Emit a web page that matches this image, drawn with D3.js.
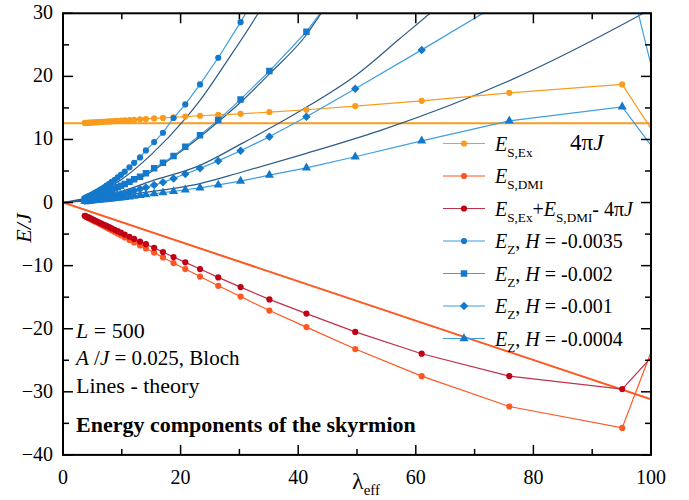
<!DOCTYPE html>
<html><head><meta charset="utf-8">
<script src="https://cdn.jsdelivr.net/npm/d3@7"></script>
<style>body{margin:0;background:#fff}</style>
</head><body><svg id="c" width="689" height="500"></svg>
<script>
// ---- data ----
const lam = [3.7,3.9,4.1,4.3,4.5,4.75,5.0,5.3,5.6,5.9,6.25,6.6,7.0,7.4,7.85,8.3,8.8,9.3,9.85,10.5,11.3,12.1,13.1,14.1,15.5,17.0,18.8,20.8,23.3,26.4,30.2,35.1,41.4,49.7,61.0,75.9,95.1,103];
const eEx = [12.62,12.63,12.64,12.65,12.66,12.67,12.69,12.70,12.72,12.74,12.76,12.78,12.81,12.83,12.86,12.89,12.92,12.95,12.99,13.03,13.08,13.13,13.19,13.25,13.33,13.42,13.52,13.63,13.76,13.91,14.07,14.34,14.71,15.29,16.13,17.40,18.73,7.43];
const eDmi = [-2.14,-2.24,-2.34,-2.44,-2.53,-2.65,-2.78,-2.92,-3.07,-3.22,-3.39,-3.57,-3.77,-3.97,-4.19,-4.42,-4.67,-4.92,-5.20,-5.53,-5.93,-6.32,-6.80,-7.28,-7.94,-8.70,-9.59,-10.54,-11.73,-13.20,-14.90,-17.12,-19.74,-23.22,-27.52,-32.33,-35.72,-16.40];
const eSum = [-2.09,-2.18,-2.27,-2.36,-2.44,-2.55,-2.66,-2.79,-2.92,-3.05,-3.20,-3.36,-3.53,-3.71,-3.90,-4.10,-4.32,-4.54,-4.78,-5.07,-5.42,-5.76,-6.18,-6.60,-7.18,-7.85,-8.64,-9.48,-10.54,-11.86,-13.40,-15.35,-17.60,-20.50,-23.96,-27.50,-29.56,-21.54];
const ez35 = [0.72,0.80,0.89,0.98,1.07,1.19,1.31,1.46,1.62,1.78,1.98,2.18,2.42,2.67,2.96,3.27,3.62,3.98,4.40,4.90,5.58,6.30,7.16,8.27,9.59,11.07,13.40,15.56,18.73,22.95,28.60,36.50];
const ez20 = [0.50,0.55,0.60,0.65,0.71,0.78,0.86,0.95,1.05,1.15,1.27,1.39,1.54,1.69,1.86,2.04,2.24,2.44,2.67,2.95,3.30,3.68,4.09,4.63,5.42,6.30,7.37,8.84,10.68,13.07,16.35,20.84,27.07,37.50];
const ez10 = [0.29,0.31,0.33,0.36,0.38,0.41,0.45,0.49,0.53,0.58,0.63,0.69,0.76,0.83,0.91,0.99,1.09,1.19,1.31,1.46,1.66,1.87,2.14,2.40,2.77,3.20,3.83,4.52,5.42,6.60,8.21,10.43,13.60,18.03,24.20,32.50,40.40,10.40];
const ez04 = [0.21,0.23,0.24,0.26,0.27,0.29,0.31,0.34,0.36,0.39,0.42,0.45,0.48,0.52,0.56,0.60,0.65,0.70,0.76,0.83,0.92,1.03,1.14,1.24,1.40,1.56,1.77,2.03,2.33,2.80,3.40,4.36,5.50,7.26,9.79,12.96,15.18,5.38];
// theory curves
const th35Lam = [0,5,10,15,20.8,23.3,27.8,33.2,36];
const th35E   = [0,1.1,3.7,7.6,13.3,16.2,22.3,30,34.5];
const th20Lam = [0,5,10,15,20.8,26.4,30.2,35.1,41.4,43.9,47];
const th20E   = [0,0.7,2.4,4.9,8.6,12.8,15.9,20.4,26.6,30,34];
const th10Lam = [0,5,10,15,23.3,30.3,40.3,50,57.3,62.4,66];
const th10E   = [0,0.6,1.8,3.4,5.9,9.3,14.5,20.3,26.0,30,33];
const th04Lam = [0,5,11.5,23.3,30.3,41.4,53.9,76.6,98.7,102];
const th04E   = [0,0.4,1.3,3.0,4.8,7.8,11.4,19.6,30,31.7];
const dmiThLam = [0,100];
const dmiThE   = [0,-31.2];
const fourPiJ = 12.566;
const xTicks = [0,20,40,60,80,100];
const yTicks = [30,20,10,0,-10,-20,-30,-40];

// ---- layout ----
const FONT = '"Liberation Serif", "Times New Roman", Tinos, "Noto Serif", "DejaVu Serif", FreeSerif, serif';
const svg = d3.select('#c');
const L = 63, R = 651, T = 13.3, B = 454.9;
const x = d3.scaleLinear().domain([0,100]).range([L,R]);
const y = d3.scaleLinear().domain([-40,30]).range([B,T]);
const zip = (a,b) => b.map((v,i)=>[a[i],v]);

svg.append('defs').append('clipPath').attr('id','clip')
  .append('rect').attr('x',L).attr('y',T).attr('width',R-L).attr('height',B-T);
const plot = svg.append('g').attr('clip-path','url(#clip)');

const lineLin = d3.line().x(d=>x(d[0])).y(d=>y(d[1]));
const lineSm = d3.line().x(d=>x(d[0])).y(d=>y(d[1])).curve(d3.curveMonotoneX);

const cOr = '#f99b1c', cDmi = '#ff5722', cSumL = '#c0304a', cSumM = '#c00014';
const cBlL = '#3d9ee0', cBlM = '#1479cc', cTh = '#2d5b88';

plot.append('line').attr('x1',L).attr('x2',R).attr('y1',y(fourPiJ)).attr('y2',y(fourPiJ))
  .attr('stroke',cOr).attr('stroke-width',2);
plot.append('path').datum(zip(dmiThLam,dmiThE)).attr('d',lineLin).attr('fill','none')
  .attr('stroke',cDmi).attr('stroke-width',2);
[[th35Lam,th35E],[th20Lam,th20E],[th10Lam,th10E],[th04Lam,th04E]].forEach(([a,b])=>{
  plot.append('path').datum(zip(a,b)).attr('d',lineSm).attr('fill','none')
    .attr('stroke',cTh).attr('stroke-width',1.2);
});

const series = [
  {v:eEx, line:cOr, mark:cOr, sym:d3.symbolCircle, size:30, rot:0},
  {v:eDmi, line:cDmi, mark:cDmi, sym:d3.symbolCircle, size:30, rot:0},
  {v:eSum, line:cSumL, mark:cSumM, sym:d3.symbolCircle, size:30, rot:0},
  {v:ez35, line:cBlL, mark:cBlM, sym:d3.symbolCircle, size:30, rot:0},
  {v:ez20, line:cBlL, mark:cBlM, sym:d3.symbolSquare, size:42, rot:0},
  {v:ez10, line:cBlL, mark:cBlM, sym:d3.symbolSquare, size:36, rot:45},
  {v:ez04, line:cBlL, mark:cBlM, sym:d3.symbolTriangle, size:36, rot:0},
];
series.forEach(s=>{
  plot.append('path').datum(zip(lam, s.v)).attr('d',lineLin).attr('fill','none')
    .attr('stroke',s.line).attr('stroke-width',1.2);
});
series.forEach(s=>{
  plot.append('g').selectAll('path').data(zip(lam, s.v)).join('path')
    .attr('transform',d=>`translate(${x(d[0])},${y(d[1])}) rotate(${s.rot})`)
    .attr('d',d3.symbol().type(s.sym).size(s.size)).attr('fill',s.mark);
});

// ---- frame & ticks ----
const ax = svg.append('g').attr('stroke','#000');
ax.append('rect').attr('x',L).attr('y',T).attr('width',R-L).attr('height',B-T)
  .attr('fill','none').attr('stroke-width',2);
d3.range(0,101,10).forEach(v=>{
  const len = v%20===0 ? 10 : 6;
  ax.append('line').attr('x1',x(v)).attr('x2',x(v)).attr('y1',B).attr('y2',B-len).attr('stroke-width',1.5);
  ax.append('line').attr('x1',x(v)).attr('x2',x(v)).attr('y1',T).attr('y2',T+len).attr('stroke-width',1.5);
});
d3.range(-40,31,5).forEach(v=>{
  const len = v%10===0 ? 10 : 6;
  ax.append('line').attr('x1',L).attr('x2',L+len).attr('y1',y(v)).attr('y2',y(v)).attr('stroke-width',1.5);
  ax.append('line').attr('x1',R).attr('x2',R-len).attr('y1',y(v)).attr('y2',y(v)).attr('stroke-width',1.5);
});
const fmt = v => v<0 ? '\u2212'+Math.abs(v) : String(v);
svg.append('g').selectAll('text').data(xTicks).join('text').style('font-family',FONT)
  .attr('x',d=>x(d)).attr('y',484).attr('text-anchor','middle').attr('font-size',20).text(fmt);
svg.append('g').selectAll('text').data(yTicks).join('text').style('font-family',FONT)
  .attr('x',53).attr('y',d=>y(d)+6).attr('text-anchor','end').attr('font-size',20).text(fmt);

svg.append('text').style('font-family',FONT).attr('transform','translate(31,228) rotate(-90)')
  .attr('text-anchor','middle').attr('font-size',22).attr('font-style','italic').text('E/J');
const xl = svg.append('text').style('font-family',FONT).attr('x',352).attr('y',489).attr('font-size',24);
xl.append('tspan').text('\u03bb');
xl.append('tspan').attr('font-size',15).attr('dy',6).text('eff');

function rich(g, xx, yy, parts, size){
  const t = g.append('text').style('font-family',FONT).attr('x',xx).attr('y',yy).attr('font-size',size);
  let low = false;
  parts.forEach(p=>{
    const ts = t.append('tspan').text(p.t);
    if(p.sub){ ts.attr('font-size',size*0.66); if(!low){ts.attr('dy',6); low=true;} }
    else if(low){ ts.attr('dy',-6); low=false; }
    if(p.it) ts.attr('font-style','italic');
    if(p.b) ts.attr('font-weight','bold');
  });
  return t;
}

const leg = svg.append('g');
const legItems = [
  {s:series[0], parts:[{t:'E',it:1},{t:'S,Ex',sub:1}]},
  {s:series[1], parts:[{t:'E',it:1},{t:'S,DMI',sub:1}]},
  {s:series[2], parts:[{t:'E',it:1},{t:'S,Ex',sub:1},{t:'+'},{t:'E',it:1},{t:'S,DMI',sub:1},{t:'- 4\u03c0'},{t:'J',it:1}]},
  {s:series[3], parts:[{t:'E',it:1},{t:'Z',sub:1},{t:', '},{t:'H',it:1},{t:' = -0.0035'}]},
  {s:series[4], parts:[{t:'E',it:1},{t:'Z',sub:1},{t:', '},{t:'H',it:1},{t:' = -0.002'}]},
  {s:series[5], parts:[{t:'E',it:1},{t:'Z',sub:1},{t:', '},{t:'H',it:1},{t:' = -0.001'}]},
  {s:series[6], parts:[{t:'E',it:1},{t:'Z',sub:1},{t:', '},{t:'H',it:1},{t:' = -0.0004'}]},
];
legItems.forEach((it,i)=>{
  const yy = 143.5 + i*32.5;
  leg.append('line').attr('x1',443).attr('x2',485).attr('y1',yy).attr('y2',yy)
    .attr('stroke',it.s.line).attr('stroke-width',1.2);
  leg.append('path').attr('transform',`translate(464,${yy}) rotate(${it.s.rot})`)
    .attr('d',d3.symbol().type(it.s.sym).size(it.s.size)).attr('fill',it.s.mark);
  rich(leg, 495, yy+7, it.parts, 20);
});
rich(svg, 570, 150, [{t:'4\u03c0'},{t:'J',it:1}], 23);

const ann = svg.append('g');
rich(ann, 76, 338, [{t:'L',it:1},{t:'  = 500'}], 22);
rich(ann, 76, 365, [{t:'A',it:1},{t:' /'},{t:'J',it:1},{t:'  = 0.025, Bloch'}], 21);
rich(ann, 76, 393, [{t:'Lines - theory'}], 22);
rich(ann, 76, 432, [{t:'Energy components of the skyrmion',b:1}], 22);
</script></body></html>
